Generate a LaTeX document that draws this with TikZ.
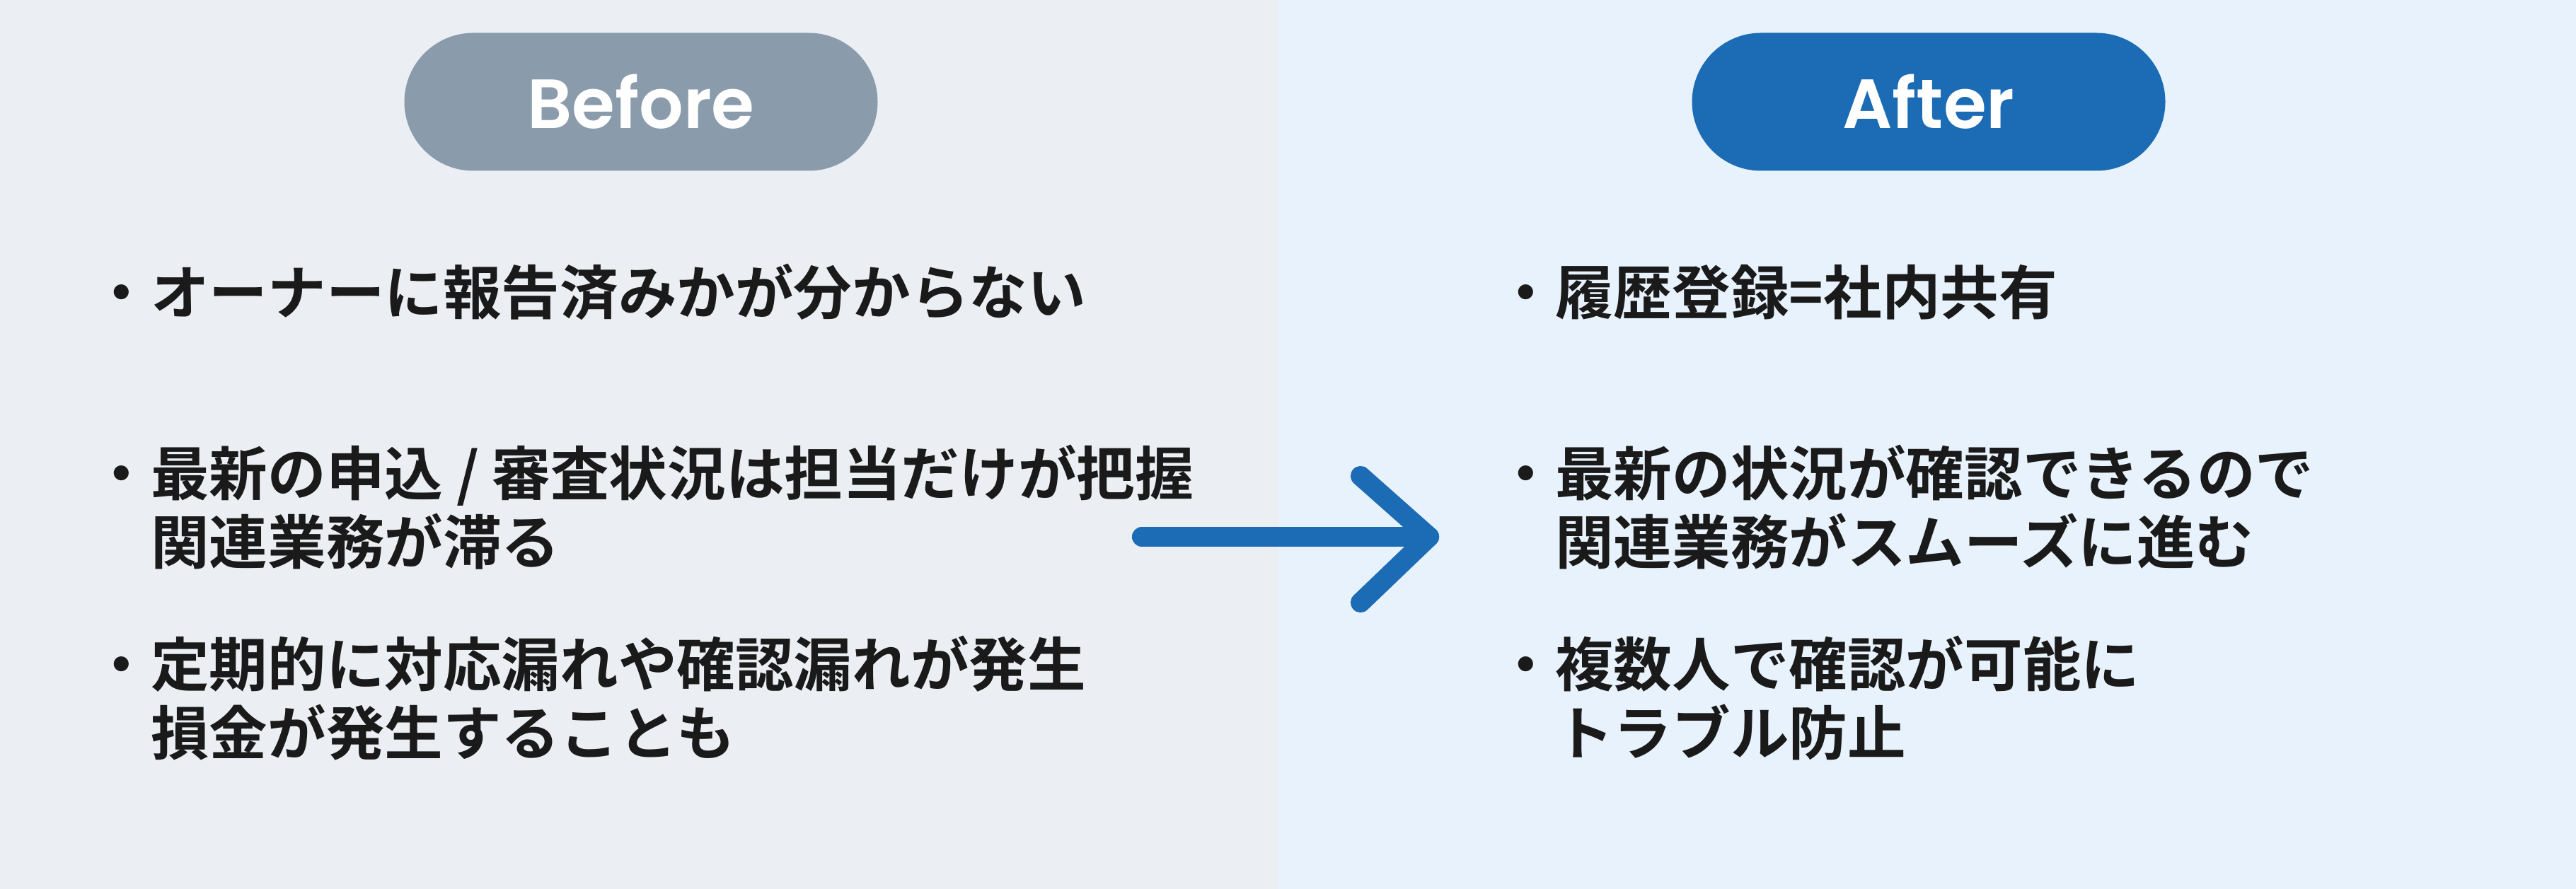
\documentclass[tikz,border=0pt]{standalone}
\usepackage{fontspec}
\newfontfamily\jpbold{Noto Sans CJK JP Bold}
\newfontfamily\pillfont{Poppins SemiBold}
\definecolor{leftbg}{HTML}{EBEFF3}
\definecolor{rightbg}{HTML}{E8F2FC}
\definecolor{beforegray}{HTML}{8A9BAC}
\definecolor{afterblue}{HTML}{1B6BB5}
\definecolor{textdark}{HTML}{1A1A1A}
\tikzset{
  pill/.style={rounded corners=0.975cm, minimum width=6.69cm, minimum height=1.95cm,
    inner sep=0pt, text=white, font=\pillfont\fontsize{28}{32}\selectfont},
  item/.style={anchor=west, align=left, inner sep=0pt, text=textdark,
    font=\jpbold\fontsize{23.5}{27.6}\selectfont}
}
\begin{document}
\begin{tikzpicture}
\useasboundingbox (0,0) rectangle (36.41,-12.57);
\fill [leftbg] (0,0) rectangle (18.07,-12.57);
\fill [rightbg] (18.07,0) rectangle (36.41,-12.57);
% headings
\node [pill, fill=beforegray] (before) at (9.06,-1.44) {Before};
\node [pill, fill=afterblue] (after) at (27.26,-1.44) {After};
% before items
\node [item] (b1) at (1.3,-4.13) {・オーナーに報告済みかが分からない};
\node [item] (b2) at (1.3,-7.17) {・最新の申込 / 審査状況は担当だけが把握\\\hspace{1em}関連業務が滞る};
\node [item] (b3) at (1.3,-9.87) {・定期的に対応漏れや確認漏れが発生\\\hspace{1em}損金が発生することも};
% after items
\node [item] (a1) at (21.15,-4.13) {・履歴登録=社内共有};
\node [item] (a2) at (21.15,-7.17) {・最新の状況が確認できるので\\\hspace{1em}関連業務がスムーズに進む};
\node [item] (a3) at (21.15,-9.87) {・複数人で確認が可能に\\\hspace{1em}トラブル防止};
% arrow
\coordinate (tail) at (16.14,-7.59);
\coordinate (tip) at (20.2,-7.59);
\coordinate (wingup) at (19.23,-6.73);
\coordinate (wingdown) at (19.23,-8.52);
\draw [afterblue, line width=8pt, line cap=round, line join=round] (tail) -- (tip);
\draw [afterblue, line width=8pt, line cap=round, line join=round] (wingup) -- (tip) -- (wingdown);
\end{tikzpicture}
\end{document}
